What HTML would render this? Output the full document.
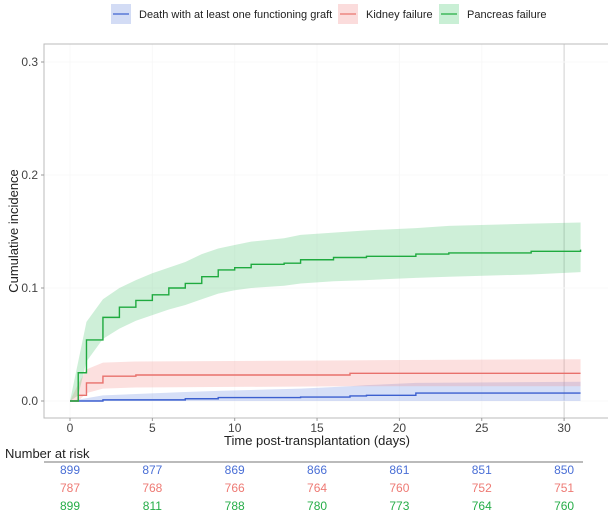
<!DOCTYPE html>
<html><head><meta charset="utf-8"><style>
body{margin:0;background:#fff;font-family:"Liberation Sans",sans-serif;}
svg text{font-family:"Liberation Sans",sans-serif;}
</style></head><body>
<svg id="c" width="608" height="524" xmlns="http://www.w3.org/2000/svg">
<g>
  <g><rect x="111" y="4" width="20" height="20" fill="#d3dcf5"/><line x1="113" y1="14" x2="129" y2="14" stroke="#3b5fcf" stroke-width="1.2"/><text x="139" y="18" font-size="11" fill="#222">Death with at least one functioning graft</text></g>
  <g><rect x="338" y="4" width="20" height="20" fill="#fbdcdc"/><line x1="340" y1="14" x2="356" y2="14" stroke="#e8716c" stroke-width="1.2"/><text x="366" y="18" font-size="11" fill="#222">Kidney failure</text></g>
  <g><rect x="439" y="4" width="20" height="20" fill="#c9efd5"/><line x1="441" y1="14" x2="457" y2="14" stroke="#1faa3f" stroke-width="1.2"/><text x="467" y="18" font-size="11" fill="#222">Pancreas failure</text></g>
</g>
<g id="grid"></g>
<g id="bands"></g>
<g id="lines"></g>
<rect x="44" y="44" width="570" height="374" fill="none" stroke="#bbb" stroke-width="1"/>
<g id="axes"></g>
<text x="18" y="231" font-size="13" fill="#222" text-anchor="middle" transform="rotate(-90 18 231)">Cumulative incidence</text>
<text x="317" y="445" font-size="13" fill="#222" text-anchor="middle">Time post-transplantation (days)</text>
<text x="5" y="458" font-size="13" fill="#222">Number at risk</text>
<line x1="44" y1="462" x2="583" y2="462" stroke="#777" stroke-width="1"/>
<g id="risk"></g>
</svg>
<script>
const xTicks=[0,5,10,15,20,25,30];
const yTicks=[0.0,0.1,0.2,0.3];
const yTickLabels=["0.0","0.1","0.2","0.3"];
const greenT=[0,0.5,1,2,3,4,5,6,7,8,9,10,11,13,14,16,18,21,23,28,31];
const greenV=[0,0.025,0.054,0.074,0.083,0.089,0.094,0.100,0.104,0.110,0.116,0.118,0.121,0.122,0.125,0.127,0.128,0.130,0.131,0.1325,0.134];
const greenHi=[0,0.035,0.070,0.090,0.100,0.107,0.113,0.118,0.123,0.130,0.135,0.138,0.141,0.144,0.147,0.149,0.151,0.153,0.155,0.157,0.158];
const greenLo=[0,0.005,0.035,0.055,0.064,0.071,0.076,0.081,0.085,0.090,0.095,0.098,0.100,0.102,0.104,0.106,0.107,0.109,0.110,0.112,0.114];
const redT=[0,0.5,1,2,4,17,31];
const redV=[0,0.005,0.016,0.022,0.023,0.0245,0.0245];
const redHi=[0,0.015,0.028,0.034,0.035,0.036,0.037];
const redLo=[0,0.000,0.007,0.011,0.012,0.013,0.013];
const blueT=[0,2,7,9,14,17,18,21,31];
const blueV=[0,0.001,0.002,0.003,0.0035,0.0045,0.005,0.007,0.007];
const blueHi=[0,0.005,0.008,0.009,0.011,0.013,0.014,0.016,0.017];
const blueLo=[0,0,0,0,0,0,0,0,0];
const riskTimes=[0,5,10,15,20,25,30];
const riskBlue=[899,877,869,866,861,851,850];
const riskRed=[787,768,766,764,760,752,751];
const riskGreen=[899,811,788,780,773,764,760];

const NS="http://www.w3.org/2000/svg";
const X=t=>70+t*16.47, Y=v=>401-v*1130;
function mk(tag,attrs,parent){const e=document.createElementNS(NS,tag);for(const k in attrs)e.setAttribute(k,attrs[k]);parent.appendChild(e);return e;}
const grid=document.getElementById('grid'),axes=document.getElementById('axes');
xTicks.forEach((t,i)=>{
  const g=mk('line',{x1:X(t),x2:X(t),y1:44,y2:418,stroke:t===30?'#d0d0d0':'#f8f8f8','stroke-width':1},grid);
  
  
  const tk=mk('line',{x1:X(t),x2:X(t),y1:418,y2:421,stroke:'#999'},axes);
  
  
  const l=mk('text',{x:X(t),y:432,'font-size':12,fill:'#444','text-anchor':'middle'},axes);l.textContent=t;
  
  
});
yTicks.forEach((v,i)=>{
  const g=mk('line',{x1:44,x2:614,y1:Y(v),y2:Y(v),stroke:'#f8f8f8','stroke-width':1},grid);
  
  
  const tk=mk('line',{x1:41,x2:44,y1:Y(v),y2:Y(v),stroke:'#999'},axes);
  
  
  const l=mk('text',{x:38,y:Y(v)+4,'font-size':12,fill:'#444','text-anchor':'end'},axes);l.textContent=yTickLabels[i];
  
  
});
function band(T,H,L,fill,name){
  let p='';T.forEach((t,i)=>{p+=(i?'L':'M')+X(t)+','+Y(H[i]);});
  for(let i=T.length-1;i>=0;i--)p+='L'+X(T[i])+','+Y(L[i]);
  const e=mk('path',{d:p+'Z',fill:fill},document.getElementById('bands'));
  
  
}
function step(T,V,col,name){
  let p='M'+X(T[0])+','+Y(V[0]);
  for(let i=1;i<T.length;i++){p+='H'+X(T[i])+'V'+Y(V[i]);}
  const e=mk('path',{d:p,fill:'none',stroke:col,'stroke-width':1.4},document.getElementById('lines'));
  
  
}
band(blueT,blueHi,blueLo,'rgba(120,150,230,0.3)','death-ci-band');
band(redT,redHi,redLo,'rgba(245,140,135,0.27)','kidney-ci-band');
band(greenT,greenHi,greenLo,'rgba(60,190,100,0.25)','pancreas-ci-band');
step(blueT,blueV,'#3b5fcf','death-line');
step(redT,redV,'#e8716c','kidney-line');
step(greenT,greenV,'#1faa3f','pancreas-line');
const risk=document.getElementById('risk');
[[riskBlue,'#4a6fd6',474],[riskRed,'#ee7a74',492],[riskGreen,'#26ad48',510]].forEach(([arr,col,y])=>{
  arr.forEach((n,i)=>{
    const e=mk('text',{x:X(riskTimes[i]),y:y,'font-size':12,fill:col,'text-anchor':'middle'},risk);e.textContent=n;
    
    
  });
});
</script>
</body></html>
